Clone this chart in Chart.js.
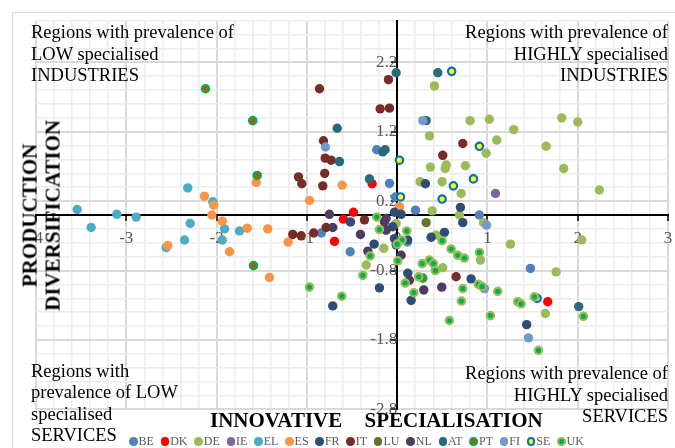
<!DOCTYPE html>
<html>
<head>
<meta charset="utf-8">
<script src="https://cdn.jsdelivr.net/npm/chart.js@4/dist/chart.umd.min.js"></script>
<style>
  html, body { margin: 0; padding: 0; background: #fff; }
  #wrap { position: relative; width: 675px; height: 448px; overflow: hidden; background: #fff;
          font-family: "Liberation Serif", "Times New Roman", serif; }
  #frame { position: absolute; left: 12px; top: 12px; width: 700px; height: 500px;
           border: 1px solid #d9d9d9; box-sizing: border-box; }
  #c { position: absolute; left: 0; top: 0; }
  .note { position: absolute; font-size: 18.5px; line-height: 21.5px; color: #000; white-space: nowrap; }
  .right { text-align: right; }
  #xtitle { position: absolute; left: 210px; top: 407.6px; font-size: 21px; line-height: 24px;
            font-weight: bold; color: #000; word-spacing: 17px; white-space: nowrap; }
  #ytitle { position: absolute; left: -108.2px; top: 191.6px; width: 300px; font-size: 21px;
            line-height: 23.4px; font-weight: bold; color: #000; text-align: center;
            transform: rotate(-90deg); transform-origin: 50% 50%; white-space: nowrap; }
  #legend { position: absolute; left: 129px; top: 434px; width: 455px; height: 15px;
            display: flex; justify-content: space-between; align-items: center;
            font-size: 12px; color: #595959; }
  #legend .item { display: flex; align-items: center; }
  #legend .dot { display: inline-block; width: 8.5px; height: 8.5px; border-radius: 50%;
                 box-sizing: border-box; margin-right: 1px; }
</style>
</head>
<body>
<div id="wrap">
  <div id="frame"></div>
  <canvas id="c" width="675" height="448"></canvas>
  <div class="note" style="left:31px; top:22.3px;">Regions with prevalence of<br>LOW specialised<br>INDUSTRIES</div>
  <div class="note right" style="right:7px; top:22.3px;">Regions with prevalence of<br>HIGHLY specialised<br>INDUSTRIES</div>
  <div class="note" style="left:31px; top:360.7px;">Regions with<br>prevalence of LOW<br>specialised<br>SERVICES</div>
  <div class="note right" style="right:7px; top:363px;">Regions with prevalence of<br>HIGHLY specialised<br>SERVICES</div>
  <div id="xtitle">INNOVATIVE SPECIALISATION</div>
  <div id="ytitle">PRODUCTION<br>DIVERSIFICATION</div>
  <div id="legend"></div>
</div>
<script>
// Regions by country: [innovative specialisation, production diversification]
const countries = ['BE','DK','DE','IE','EL','ES','FR','IT','LU','NL','AT','PT','FI','SE','UK'];

const BE = [[-0.226,0.94],[-0.085,0.455],[0.203,0.07],[0.91,0.0],[-0.52,-0.53],[1.476,-0.77],[-0.84,-0.26],[-0.02,0.26]];
const DK = [[-0.484,0.04],[-0.595,-0.06],[-0.694,-0.38],[-0.277,0.45],[1.668,-1.25]];
const DE = [[0.413,1.86],[0.808,1.36],[1.022,1.38],[0.358,1.14],[1.103,1.08],[1.291,1.23],[1.823,1.40],[2.0,1.34],
            [1.65,0.99],[0.986,0.89],[0.369,0.69],[0.543,0.72],[0.532,0.67],[0.756,0.71],[1.845,0.67],[0.255,0.48],
            [0.498,0.48],[0.709,0.31],[0.388,0.06],[0.69,0.0],[0.956,-0.11],[0.432,-0.29],[0.505,-0.76],[0.922,-0.65],
            [1.255,-0.42],[1.761,-0.82],[2.045,-0.36],[1.642,-1.42],[-0.148,-0.48],[-0.343,-0.72],[-0.011,-0.12],[2.24,0.36]];
const IE = [[1.089,0.31]];
const EL = [[-3.544,0.08],[-3.389,-0.18],[-3.105,0.01],[-2.89,-0.03],[-2.319,0.39],[-2.292,-0.12],[-2.355,-0.36],
            [-2.558,-0.47],[-2.042,0.19],[-1.912,-0.2],[-1.937,-0.36],[-1.746,-0.23],[0.114,-0.39]];
const ES = [[-2.54,-0.44],[-2.134,0.27],[-2.031,0.14],[-2.053,0.0],[-1.937,-0.09],[-1.857,-0.53],[-1.661,-0.19],
            [-1.561,0.47],[-1.433,-0.2],[-1.414,-0.9],[-1.207,-0.39],[-0.971,0.21],[-0.609,0.43],[0.025,0.12]];
const FR = [[0.313,0.45],[0.701,0.11],[0.727,-0.11],[0.524,-0.25],[0.376,-0.32],[0.819,-0.92],[0.118,-0.84],
            [0.155,-1.23],[-0.196,-1.05],[-0.713,-1.31],[1.435,-1.58],[-0.255,-0.42],[-0.517,-0.10],[-0.03,0.04],
            [0.044,0.01],[0.117,-0.36],[-0.011,-0.43],[-0.049,-0.17],[-0.03,-0.34]];
const IT = [[-0.86,1.82],[-0.816,1.07],[-0.797,0.82],[-0.731,0.79],[-0.802,0.60],[-1.093,0.55],[-1.056,0.45],
            [-0.824,0.42],[-0.096,1.95],[-0.188,1.53],[-0.085,1.54],[0.727,1.03],[0.505,0.86],[-1.156,-0.28],
            [-1.063,-0.30],[-0.924,-0.26],[-0.786,-0.18],[-0.362,-0.07],[0.653,-0.89]];
const LU = [[0.321,-0.11]];
const NL = [[-0.75,0.01],[-0.713,-0.18],[-0.406,-0.28],[-0.122,-0.05],[-0.122,-0.22],[-0.325,-0.52],[0.044,-0.58],
            [0.295,-1.08],[0.494,-1.04],[0.136,-0.94],[-0.14,-0.10]];
const AT = [[-0.011,2.05],[0.45,2.05],[-0.664,1.25],[-0.639,0.77],[-0.133,0.94],[-0.16,0.91],[0.321,1.36],
            [-0.307,0.52],[2.011,-1.32]];
const PT = [[-2.123,1.82],[-1.599,1.36],[-1.55,0.57],[-1.591,-0.73],[0.284,-0.91]];
const FI = [[0.284,1.36],[-0.794,0.98],[0.99,-0.145],[0.967,-1.06],[1.454,-1.77]];
const SE = [[0.604,2.07],[0.911,0.99],[0.025,0.79],[0.845,0.52],[0.623,0.42],[0.498,0.23],[0.037,0.26],[1.55,-1.20]];
const UK = [[-0.226,-0.03],[-0.196,-0.21],[-0.299,-0.59],[-0.381,-0.87],[-0.971,-1.04],[-0.613,-1.17],[0.106,-0.23],
            [0.055,-0.36],[0.0,-0.42],[0.007,-0.66],[0.498,-0.37],[0.598,-0.49],[0.671,-0.58],[0.745,-0.62],
            [0.911,-0.54],[0.277,-0.70],[0.358,-0.65],[0.402,-0.70],[0.424,-0.80],[0.239,-0.89],[0.089,-0.98],
            [0.184,-1.12],[0.727,-1.06],[0.712,-1.24],[0.90,-1.00],[0.941,-1.03],[1.114,-1.10],[1.336,-1.25],
            [1.373,-1.28],[1.52,-1.18],[1.033,-1.45],[0.579,-1.52],[2.063,-1.46],[1.565,-1.95]];

const seriesData = { BE, DK, DE, IE, EL, ES, FR, IT, LU, NL, AT, PT, FI, SE, UK };

// Axis extents and labelled tick values
const xRange = [-4, 3];
const yRange = [-2.8, 2.8];
const xTickLabels = [-4, -3, -2, -1, 0, 1, 2, 3];
const yTickLabels = [-2.8, -1.8, -0.8, 0.2, 1.2, 2.2];

// Marker styles: fill, ring colour
const fills   = { BE:'#4F81BD', DK:'#FF0000', DE:'#9BBB59', IE:'#8064A2', EL:'#4BACC6', ES:'#F79646',
                  FR:'#2C4D75', IT:'#772C2A', LU:'#5F7530', NL:'#4D3B62', AT:'#276A7C', PT:'#B65708',
                  FI:'#729ACA', SE:'#FFFF00', UK:'#00B050' };
const rings   = { PT:'#00B050', SE:'#0070C0', UK:'#9BBB59' };

const near = (a, b) => Math.abs(a - b) < 1e-6;
const isXMajor = v => xTickLabels.some(t => near(t, v));
const isYMajor = v => yTickLabels.some(t => near(t, v));

const datasets = countries.map((c, i) => {
  const ringed = !!rings[c];
  return {
    label: c,
    data: seriesData[c].map(([x, y]) => ({ x, y })),
    backgroundColor: fills[c],
    borderColor: ringed ? rings[c] : fills[c],
    borderWidth: ringed ? 2.2 : 0,
    pointRadius: ringed ? 3.7 : 4.7,
    pointHoverRadius: ringed ? 3.7 : 4.7,
    order: -i
  };
});

const tickFont = { family: "'Liberation Serif', 'Times New Roman', serif", size: 17 };

// Axes cross at the origin and take no layout room of their own
const flatten = (s, vertical) => {
  if (vertical) s.width = 0; else s.height = 0;
  s.paddingLeft = 0; s.paddingRight = 0; s.paddingTop = 0; s.paddingBottom = 0;
};

new Chart(document.getElementById('c'), {
  type: 'scatter',
  data: { datasets },
  options: {
    responsive: false,
    animation: false,
    events: [],
    layout: { padding: { left: 36, right: 7, top: 20.7, bottom: 38.7 } },
    plugins: { legend: { display: false }, tooltip: { enabled: false } },
    scales: {
      x: {
        type: 'linear',
        position: { y: 0 },
        min: xRange[0], max: xRange[1],
        afterFit: s => flatten(s, false),
        ticks: {
          stepSize: 0.2, autoSkip: false, maxRotation: 0, padding: 8,
          color: '#595959', font: tickFont,
          callback: v => isXMajor(v) ? String(Math.round(v)) : ''
        },
        grid: {
          color: ctx => ctx.tick && isXMajor(ctx.tick.value) ? '#d9d9d9' : '#ececec',
          lineWidth: ctx => ctx.tick && isXMajor(ctx.tick.value) ? 2 : 1.5,
          tickLength: 5,
          tickColor: ctx => ctx.tick && isXMajor(ctx.tick.value) ? '#000' : 'rgba(0,0,0,0)',
          tickWidth: 1.5
        },
        border: { color: '#000', width: 2 }
      },
      y: {
        type: 'linear',
        position: { x: 0 },
        min: yRange[0], max: yRange[1],
        afterFit: s => flatten(s, true),
        ticks: {
          stepSize: 0.2, autoSkip: false, padding: 10,
          color: '#595959', font: tickFont,
          callback: v => isYMajor(v) ? (Math.round(v * 10) / 10).toFixed(1) : ''
        },
        grid: {
          color: ctx => ctx.tick && isYMajor(ctx.tick.value) ? '#d9d9d9' : '#ececec',
          lineWidth: ctx => ctx.tick && isYMajor(ctx.tick.value) ? 2 : 1.5,
          tickLength: 5,
          tickColor: ctx => ctx.tick && isYMajor(ctx.tick.value) ? '#000' : 'rgba(0,0,0,0)',
          tickWidth: 1.5
        },
        border: { color: '#000', width: 2 }
      }
    }
  }
});

// Legend row
const legend = document.getElementById('legend');
countries.forEach(c => {
  const item = document.createElement('span');
  item.className = 'item';
  const dot = document.createElement('span');
  dot.className = 'dot';
  dot.style.background = fills[c];
  if (rings[c]) dot.style.border = '2px solid ' + rings[c];
  item.appendChild(dot);
  item.appendChild(document.createTextNode(c));
  legend.appendChild(item);
});
</script>
</body>
</html>
